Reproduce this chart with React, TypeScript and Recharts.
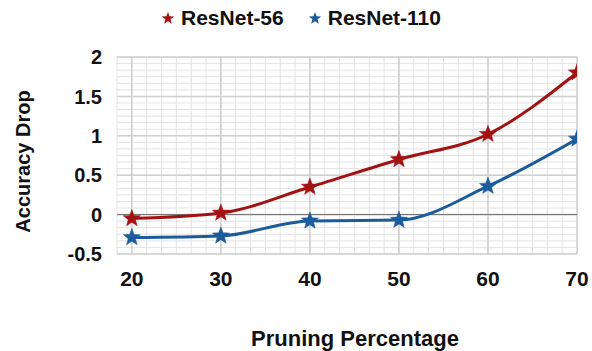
import React from 'react';
import {
  LineChart, Line, XAxis, YAxis, CartesianGrid, ReferenceLine, Legend,
} from 'recharts';

// pruning percentage (x) and accuracy drop per model
const pruning = [20, 30, 40, 50, 60, 70];
const resnet56 = [-0.05, 0.02, 0.35, 0.7, 1.02, 1.8];
const resnet110 = [-0.29, -0.27, -0.08, -0.07, 0.36, 0.96];

const xTicks = [20, 30, 40, 50, 60, 70];
const yTicks = [-0.5, 0, 0.5, 1, 1.5, 2];

const RED = '#a31212';
const BLUE = '#1b5b9b';
const FONT = '"Liberation Sans", Arial, sans-serif';

const chartData = pruning.map((p, i) => ({
  pct: p,
  r56: resnet56[i],
  r110: resnet110[i],
}));

// excel-style minor gridlines: 6 subdivisions between major ticks
const subdivide = (ticks: number[], n: number, extraBefore = 0) => {
  const step = (ticks[1] - ticks[0]) / n;
  const out: number[] = [];
  for (let k = extraBefore; k > 0; k--) out.push(ticks[0] - k * step);
  for (let i = 0; i < ticks.length - 1; i++) {
    for (let j = 0; j < n; j++) out.push(ticks[i] + j * step);
  }
  out.push(ticks[ticks.length - 1]);
  return out;
};
const xStep = (xTicks[1] - xTicks[0]) / 6;
const xMin = xTicks[0] - xStep;
const xMinor = subdivide(xTicks, 6, 1);
const yMinor = subdivide(yTicks, 6);

const starPath = (cx: number, cy: number, R: number, r: number) => {
  let d = '';
  for (let i = 0; i < 10; i++) {
    const rad = i % 2 === 0 ? R : r;
    const a = -Math.PI / 2 + (i * Math.PI) / 5;
    d += `${i === 0 ? 'M' : 'L'}${cx + rad * Math.cos(a)},${cy + rad * Math.sin(a)}`;
  }
  return d + 'Z';
};

const StarDot = (color: string) => (props: any) => {
  const { cx, cy, index } = props;
  if (cx == null || cy == null) return <g key={index} />;
  return <path key={index} d={starPath(cx, cy, 9, 3.8)} fill={color} stroke={color} strokeWidth={0.5} />;
};

const LegendContent = () => (
  <div style={{ display: 'flex', justifyContent: 'center', alignItems: 'center', fontFamily: FONT, fontWeight: 700, fontSize: 21, color: '#111', paddingLeft: 10 }}>
    {[{ name: 'ResNet-56', color: RED }, { name: 'ResNet-110', color: BLUE }].map((it, i) => (
      <div key={i} style={{ display: 'flex', alignItems: 'center', marginRight: i === 0 ? 24 : 0 }}>
        <svg width={14} height={14} style={{ marginRight: 6 }}>
          <path d={starPath(7, 7.5, 6.5, 2.7)} fill={it.color} />
        </svg>
        <span>{it.name}</span>
      </div>
    ))}
  </div>
);

const XLabel = (props: any) => {
  const { viewBox } = props;
  return (
    <text x={viewBox.x + viewBox.width / 2 + 8} y={346} textAnchor="middle" fontFamily={FONT} fontWeight={700} fontSize={22} fill="#111">
      Pruning Percentage
    </text>
  );
};

const YLabel = (props: any) => {
  const { viewBox } = props;
  const cy = viewBox.y + viewBox.height / 2 + 6;
  return (
    <text x={30} y={cy} transform={`rotate(-90, 30, ${cy})`} textAnchor="middle" fontFamily={FONT} fontWeight={700} fontSize={20} fill="#111">
      Accuracy Drop
    </text>
  );
};

export default function App() {
  return (
    <div style={{ position: 'absolute', left: 0, top: 0, width: 592, height: 351, background: '#fff' }}>
      <LineChart width={592} height={351} data={chartData} margin={{ top: 57, right: 15, bottom: 0, left: 0 }}>
        <CartesianGrid stroke="#e3e3e3" strokeWidth={1} verticalValues={xMinor} horizontalValues={yMinor} />
        <CartesianGrid stroke="#cfcfcf" strokeWidth={1.5} verticalValues={xTicks} horizontalValues={yTicks} />
        <XAxis
          dataKey="pct"
          type="number"
          domain={[xMin, xTicks[xTicks.length - 1]]}
          ticks={xTicks}
          interval={0}
          allowDataOverflow
          axisLine={false}
          tickLine={false}
          tickSize={0}
          tickMargin={17}
          height={97}
          tick={{ fontFamily: FONT, fontWeight: 700, fontSize: 21, fill: '#111' }}
          label={<XLabel />}
        />
        <YAxis
          type="number"
          domain={[yTicks[0], yTicks[yTicks.length - 1]]}
          ticks={yTicks}
          interval={0}
          width={117}
          axisLine={false}
          tickLine={false}
          tickSize={0}
          tickMargin={15}
          tick={{ fontFamily: FONT, fontWeight: 700, fontSize: 20, fill: '#111' }}
          label={<YLabel />}
        />
        <ReferenceLine y={0} stroke="#6e6e6e" strokeWidth={1} />
        <Legend verticalAlign="middle" align="center" wrapperStyle={{ top: 6, left: 0, width: 592 }} content={<LegendContent />} />
        <Line type="monotone" dataKey="r56" name="ResNet-56" stroke={RED} strokeWidth={3} dot={StarDot(RED)} activeDot={false} isAnimationActive={false} />
        <Line type="monotone" dataKey="r110" name="ResNet-110" stroke={BLUE} strokeWidth={3} dot={StarDot(BLUE)} activeDot={false} isAnimationActive={false} />
      </LineChart>
    </div>
  );
}
